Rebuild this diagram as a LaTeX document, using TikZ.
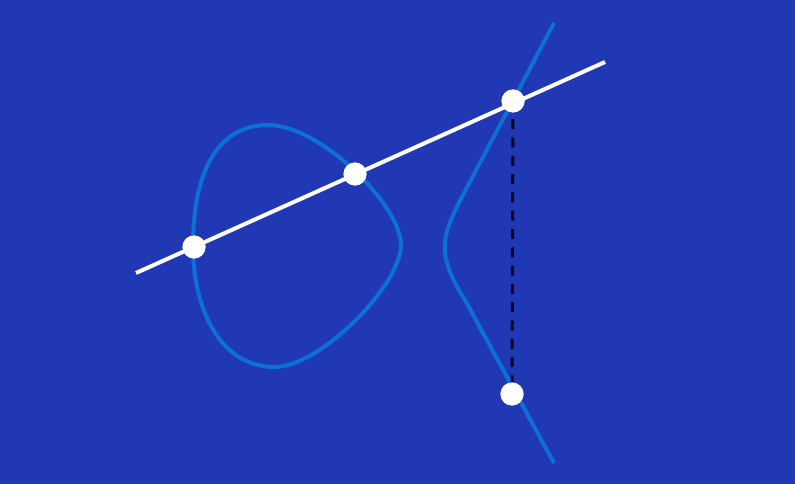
\documentclass[tikz,border=0pt]{standalone}
\definecolor{bg}{RGB}{32,56,180}
\definecolor{curve}{RGB}{12,112,214}
\definecolor{dash}{RGB}{4,6,36}
\begin{document}
\begin{tikzpicture}[x=1pt,y=-1pt,
  curveline/.style={draw=curve,line width=4pt},
  chord/.style={draw=white,line width=4pt},
  vert/.style={draw=dash,line width=3pt,dash pattern=on 10pt off 8.3pt,dash phase=11.8pt},
  dot/.style={circle,fill=white,inner sep=0pt,minimum size=23pt}]
\fill[bg] (0,0) rectangle (795,484);
\useasboundingbox (0,0) rectangle (795,484);
% oval
\path[curveline] (193,247) .. controls (193,160) and (225,125) .. (268,125)
  .. controls (320,125) and (401,205) .. (401,245)
  .. controls (401,285) and (320,367) .. (275,367)
  .. controls (215,367) and (193,300) .. (193,247) -- cycle;
% right branch
\path[curveline] (554,23) -- (472,178)
  .. controls (443,233) and (432,248) .. (465,300) -- (554,463);
% nodes
\node[dot] (p1) at (194,247) {};
\node[dot] (p2) at (355,174) {};
\node[dot] (p3) at (513,101) {};
\node[dot] (p4) at (512,394) {};
\coordinate (l0) at (136,273);
\coordinate (l1) at (605,62);
\draw[chord] (l0) -- (l1);
\draw[vert] (p3) -- (p4);
\node[dot] at (p1) {};
\node[dot] at (p2) {};
\node[dot] at (p3) {};
\node[dot] at (p4) {};
\end{tikzpicture}
\end{document}
